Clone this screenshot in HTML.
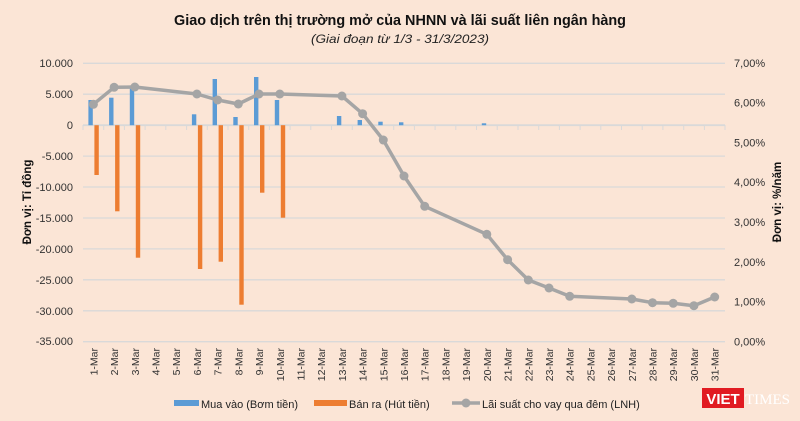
<!DOCTYPE html>
<html><head><meta charset="utf-8"><style>
html,body{margin:0;padding:0;background:#fbe5d6;}
svg{display:block;font-family:"Liberation Sans",sans-serif;}
</style></head><body>
<svg width="800" height="421" viewBox="0 0 800 421">
<rect width="800" height="421" fill="#fbe5d6"/>
<text x="400" y="25" text-anchor="middle" font-size="15" font-weight="bold" fill="#111" textLength="452" lengthAdjust="spacingAndGlyphs">Giao dịch trên thị trường mở của NHNN và lãi suất liên ngân hàng</text>
<text x="400" y="43" text-anchor="middle" font-size="12" font-style="italic" fill="#222" textLength="178" lengthAdjust="spacingAndGlyphs">(Giai đoạn từ 1/3 - 31/3/2023)</text>
<g stroke="#d9d9d9" stroke-width="1.3">
<line x1="83" y1="63.3" x2="725" y2="63.3"/><line x1="83" y1="94.2" x2="725" y2="94.2"/>
<line x1="83" y1="156.1" x2="725" y2="156.1"/><line x1="83" y1="187" x2="725" y2="187"/>
<line x1="83" y1="218" x2="725" y2="218"/><line x1="83" y1="248.9" x2="725" y2="248.9"/>
<line x1="83" y1="279.8" x2="725" y2="279.8"/><line x1="83" y1="310.8" x2="725" y2="310.8"/>
<line x1="83" y1="341.7" x2="725" y2="341.7"/>
<line x1="83" y1="125.2" x2="725" y2="125.2" stroke-width="1.8"/>
</g>
<g stroke="#d9d9d9" stroke-width="1">
<path d="M83 125v5M103.7 125v5M124.4 125v5M145.1 125v5M165.8 125v5M186.6 125v5M207.3 125v5M228 125v5M248.7 125v5M269.4 125v5M290.1 125v5M310.8 125v5M331.5 125v5M352.3 125v5M373 125v5M393.7 125v5M414.4 125v5M435.1 125v5M455.8 125v5M476.5 125v5M497.2 125v5M518 125v5M538.7 125v5M559.4 125v5M580.1 125v5M600.8 125v5M621.5 125v5M642.2 125v5M662.9 125v5M683.7 125v5M704.4 125v5M725 125v5"/>
</g>
<g font-size="11" fill="#333" text-anchor="end">
<text x="73" y="67">10.000</text><text x="73" y="98">5.000</text><text x="73" y="129">0</text>
<text x="73" y="160">-5.000</text><text x="73" y="191">-10.000</text><text x="73" y="222">-15.000</text>
<text x="73" y="253">-20.000</text><text x="73" y="284">-25.000</text><text x="73" y="315">-30.000</text>
<text x="73" y="345">-35.000</text>
</g>
<g font-size="11" fill="#333">
<text x="734" y="67">7,00%</text><text x="734" y="106.5">6,00%</text><text x="734" y="146.3">5,00%</text>
<text x="734" y="186">4,00%</text><text x="734" y="226">3,00%</text><text x="734" y="266">2,00%</text>
<text x="734" y="305.5">1,00%</text><text x="734" y="345.5">0,00%</text>
</g>
<text transform="translate(31,202) rotate(-90)" text-anchor="middle" font-size="11.5" font-weight="bold" fill="#111">Đơn vị: Tỉ đồng</text>
<text transform="translate(781,202) rotate(-90)" text-anchor="middle" font-size="11.5" font-weight="bold" fill="#111">Đơn vị: %/năm</text>
<g fill="#5b9bd5">
<rect x="88.4" y="100" width="4.4" height="25.2"/><rect x="109.1" y="97.7" width="4.4" height="27.5"/>
<rect x="129.8" y="88" width="4.4" height="37.2"/><rect x="191.9" y="114.3" width="4.4" height="10.9"/>
<rect x="212.6" y="79" width="4.4" height="46.2"/><rect x="233.3" y="117" width="4.4" height="8.2"/>
<rect x="254" y="77" width="4.4" height="48.2"/><rect x="274.8" y="100" width="4.4" height="25.2"/>
<rect x="336.9" y="116" width="4.4" height="9.2"/><rect x="357.6" y="120" width="4.4" height="5.2"/>
<rect x="378.3" y="121.7" width="4.4" height="3.5"/><rect x="399" y="122.3" width="4.4" height="2.9"/>
<rect x="481.8" y="123.3" width="4.4" height="1.9"/>
</g>
<g fill="#ed7d31">
<rect x="94.4" y="125.2" width="4.4" height="49.8"/><rect x="115.1" y="125.2" width="4.4" height="86.1"/>
<rect x="135.8" y="125.2" width="4.4" height="132.5"/><rect x="197.9" y="125.2" width="4.4" height="143.8"/>
<rect x="218.6" y="125.2" width="4.4" height="136.5"/><rect x="239.3" y="125.2" width="4.4" height="179.5"/>
<rect x="260" y="125.2" width="4.4" height="67.5"/><rect x="280.8" y="125.2" width="4.4" height="92.5"/>
</g>
<polyline fill="none" stroke="#a5a5a5" stroke-width="3.5" stroke-linejoin="round" points="93.4,104.3 114.1,87.3 134.8,87 196.9,94 217.6,100 238.3,104 259,94 279.8,94 341.9,96 362.6,113.7 383.3,140 404,176 424.7,206.3 486.8,234.3 507.6,259.7 528.3,280 549,288 569.7,296.3 631.8,299 652.5,302.7 673.2,303.3 693.9,305.7 714.7,297"/>
<g fill="#a5a5a5">
<circle cx="93.4" cy="104.3" r="4.5"/><circle cx="114.1" cy="87.3" r="4.5"/><circle cx="134.8" cy="87" r="4.5"/>
<circle cx="196.9" cy="94" r="4.5"/><circle cx="217.6" cy="100" r="4.5"/><circle cx="238.3" cy="104" r="4.5"/>
<circle cx="259" cy="94" r="4.5"/><circle cx="279.8" cy="94" r="4.5"/><circle cx="341.9" cy="96" r="4.5"/>
<circle cx="362.6" cy="113.7" r="4.5"/><circle cx="383.3" cy="140" r="4.5"/><circle cx="404" cy="176" r="4.5"/>
<circle cx="424.7" cy="206.3" r="4.5"/><circle cx="486.8" cy="234.3" r="4.5"/><circle cx="507.6" cy="259.7" r="4.5"/>
<circle cx="528.3" cy="280" r="4.5"/><circle cx="549" cy="288" r="4.5"/><circle cx="569.7" cy="296.3" r="4.5"/>
<circle cx="631.8" cy="299" r="4.5"/><circle cx="652.5" cy="302.7" r="4.5"/><circle cx="673.2" cy="303.3" r="4.5"/>
<circle cx="693.9" cy="305.7" r="4.5"/><circle cx="714.7" cy="297" r="4.5"/>
</g>
<g font-size="10.5" fill="#333" text-anchor="end">
<text transform="translate(97.4,348) rotate(-90)">1-Mar</text><text transform="translate(118.1,348) rotate(-90)">2-Mar</text>
<text transform="translate(138.8,348) rotate(-90)">3-Mar</text><text transform="translate(159.5,348) rotate(-90)">4-Mar</text>
<text transform="translate(180.2,348) rotate(-90)">5-Mar</text><text transform="translate(200.9,348) rotate(-90)">6-Mar</text>
<text transform="translate(221.6,348) rotate(-90)">7-Mar</text><text transform="translate(242.3,348) rotate(-90)">8-Mar</text>
<text transform="translate(263,348) rotate(-90)">9-Mar</text><text transform="translate(283.8,348) rotate(-90)">10-Mar</text>
<text transform="translate(304.5,348) rotate(-90)">11-Mar</text><text transform="translate(325.2,348) rotate(-90)">12-Mar</text>
<text transform="translate(345.9,348) rotate(-90)">13-Mar</text><text transform="translate(366.6,348) rotate(-90)">14-Mar</text>
<text transform="translate(387.3,348) rotate(-90)">15-Mar</text><text transform="translate(408,348) rotate(-90)">16-Mar</text>
<text transform="translate(428.7,348) rotate(-90)">17-Mar</text><text transform="translate(449.4,348) rotate(-90)">18-Mar</text>
<text transform="translate(470.1,348) rotate(-90)">19-Mar</text><text transform="translate(490.8,348) rotate(-90)">20-Mar</text>
<text transform="translate(511.6,348) rotate(-90)">21-Mar</text><text transform="translate(532.3,348) rotate(-90)">22-Mar</text>
<text transform="translate(553,348) rotate(-90)">23-Mar</text><text transform="translate(573.7,348) rotate(-90)">24-Mar</text>
<text transform="translate(594.4,348) rotate(-90)">25-Mar</text><text transform="translate(615.1,348) rotate(-90)">26-Mar</text>
<text transform="translate(635.8,348) rotate(-90)">27-Mar</text><text transform="translate(656.5,348) rotate(-90)">28-Mar</text>
<text transform="translate(677.2,348) rotate(-90)">29-Mar</text><text transform="translate(697.9,348) rotate(-90)">30-Mar</text>
<text transform="translate(718.7,348) rotate(-90)">31-Mar</text>
</g>
<rect x="174" y="400" width="25" height="6" fill="#5b9bd5"/>
<text x="201" y="408" font-size="11" fill="#222">Mua vào (Bơm tiền)</text>
<rect x="314" y="400" width="33" height="6" fill="#ed7d31"/>
<text x="349" y="408" font-size="11" fill="#222">Bán ra (Hút tiền)</text>
<line x1="452" y1="403" x2="480" y2="403" stroke="#a5a5a5" stroke-width="3.5"/>
<circle cx="466" cy="403" r="4.5" fill="#a5a5a5"/>
<text x="482" y="408" font-size="11" fill="#222">Lãi suất cho vay qua đêm (LNH)</text>
<rect x="702" y="388" width="42" height="20" fill="#e11b22"/>
<text x="723" y="404" text-anchor="middle" font-size="15" font-weight="bold" fill="#fff">VIET</text>
<text x="745" y="404" font-size="15" font-family="Liberation Serif,serif" fill="#fff">TIMES</text>
</svg>
</body></html>
